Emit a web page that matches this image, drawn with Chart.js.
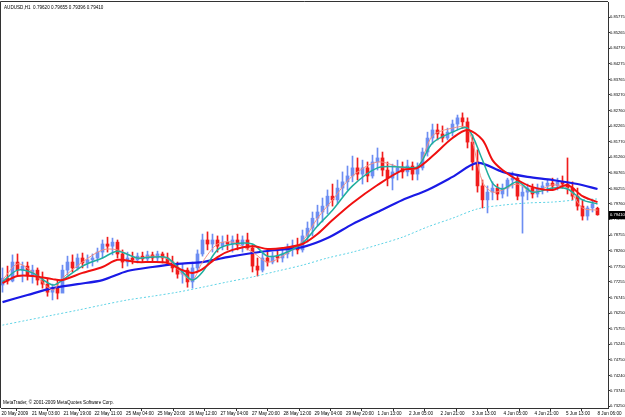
<!DOCTYPE html>
<html>
<head>
<meta charset="utf-8">
<script src="https://cdn.jsdelivr.net/npm/chart.js@4.4.0/dist/chart.umd.min.js"></script>
<style>
  html, body { margin: 0; padding: 0; background: #fff; }
  #wrap { width: 625px; height: 417px; }
</style>
</head>
<body>
<div id="wrap"><canvas id="chart" width="625" height="417"></canvas></div>
<script>
// AUDUSD H1, one candle per bar slot
const symbol = 'AUDUSD,H1';

const opens = [
  0.7715,0.7737,0.7728,0.7789,0.7763,0.7776,0.7747,0.7763,0.7731,0.7718,
  0.7692,0.7705,0.7689,0.7763,0.7789,0.7770,0.7802,0.7786,0.7796,0.7802,
  0.7821,0.7847,0.7840,0.7853,0.7815,0.7789,0.7802,0.7796,0.7808,0.7799,
  0.7812,0.7802,0.7815,0.7802,0.7789,0.7770,0.7750,0.7763,0.7725,0.7770,
  0.7815,0.7860,0.7847,0.7860,0.7840,0.7853,0.7847,0.7860,0.7844,0.7860,
  0.7834,0.7776,0.7763,0.7802,0.7789,0.7808,0.7802,0.7815,0.7828,0.7840,
  0.7828,0.7873,0.7898,0.7930,0.7950,0.7969,0.8001,0.7989,0.8027,0.8047,
  0.8066,0.8092,0.8072,0.8092,0.8066,0.8111,0.8124,0.8085,0.8059,0.8079,
  0.8092,0.8079,0.8098,0.8072,0.8092,0.8143,0.8188,0.8214,0.8201,0.8188,
  0.8207,0.8233,0.8253,0.8240,0.8175,0.8111,0.8034,0.7989,0.8014,0.8027,
  0.8008,0.8027,0.8053,0.8059,0.8001,0.8014,0.8027,0.8008,0.8027,0.8034,
  0.8043,0.8034,0.8047,0.8040,0.8027,0.8001,0.7969,0.7937,0.7963,0.79620
];
const highs = [
  0.7770,0.7776,0.7812,0.7815,0.7789,0.7789,0.7779,0.7770,0.7757,0.7737,
  0.7718,0.7731,0.7779,0.7808,0.7812,0.7815,0.7818,0.7812,0.7815,0.7834,
  0.7860,0.7869,0.7866,0.7860,0.7828,0.7821,0.7821,0.7818,0.7821,0.7824,
  0.7821,0.7824,0.7821,0.7818,0.7808,0.7789,0.7783,0.7770,0.7789,0.7828,
  0.7879,0.7886,0.7879,0.7873,0.7873,0.7876,0.7873,0.7879,0.7873,0.7882,
  0.7844,0.7802,0.7821,0.7828,0.7821,0.7828,0.7834,0.7847,0.7860,0.7866,
  0.7892,0.7918,0.7950,0.7972,0.7995,0.8021,0.8040,0.8053,0.8079,0.8098,
  0.8130,0.8124,0.8117,0.8111,0.8133,0.8156,0.8143,0.8111,0.8104,0.8117,
  0.8111,0.8117,0.8111,0.8108,0.8156,0.8207,0.8233,0.8233,0.8227,0.8220,
  0.8246,0.8262,0.8269,0.8253,0.8198,0.8150,0.8053,0.8034,0.8047,0.8040,
  0.8040,0.8059,0.8079,0.8069,0.8034,0.8040,0.8040,0.8040,0.8047,0.8053,
  0.8059,0.8059,0.8066,0.8124,0.8047,0.8027,0.7989,0.7969,0.7989,0.79655
];
const lows = [
  0.7692,0.7718,0.7725,0.7747,0.7725,0.7731,0.7721,0.7715,0.7705,0.7679,
  0.7667,0.7670,0.7692,0.7747,0.7757,0.7763,0.7770,0.7770,0.7776,0.7789,
  0.7802,0.7821,0.7812,0.7802,0.7770,0.7776,0.7783,0.7786,0.7789,0.7792,
  0.7789,0.7792,0.7786,0.7779,0.7757,0.7737,0.7721,0.7708,0.7705,0.7757,
  0.7808,0.7828,0.7821,0.7821,0.7828,0.7828,0.7821,0.7828,0.7821,0.7828,
  0.7757,0.7744,0.7757,0.7776,0.7783,0.7789,0.7789,0.7802,0.7808,0.7815,
  0.7821,0.7853,0.7873,0.7905,0.7918,0.7944,0.7969,0.7976,0.8001,0.8021,
  0.8047,0.8053,0.8040,0.8047,0.8059,0.8085,0.8066,0.8034,0.8021,0.8053,
  0.8059,0.8066,0.8053,0.8053,0.8085,0.8130,0.8169,0.8182,0.8175,0.8182,
  0.8195,0.8214,0.8220,0.8156,0.8085,0.8014,0.7963,0.7947,0.7989,0.7989,
  0.7995,0.8001,0.8027,0.7989,0.7882,0.7989,0.7995,0.7998,0.8008,0.8014,
  0.8021,0.8021,0.8027,0.8008,0.7989,0.7956,0.7924,0.7924,0.7950,0.79396
];
const closes = [
  0.7737,0.7728,0.7789,0.7763,0.7776,0.7747,0.7763,0.7731,0.7718,0.7692,
  0.7705,0.7689,0.7763,0.7789,0.7770,0.7802,0.7786,0.7796,0.7802,0.7821,
  0.7847,0.7840,0.7853,0.7815,0.7789,0.7802,0.7796,0.7808,0.7799,0.7812,
  0.7802,0.7815,0.7802,0.7789,0.7770,0.7750,0.7763,0.7725,0.7770,0.7815,
  0.7860,0.7847,0.7860,0.7840,0.7853,0.7847,0.7860,0.7844,0.7860,0.7834,
  0.7776,0.7763,0.7802,0.7789,0.7808,0.7802,0.7815,0.7828,0.7840,0.7828,
  0.7873,0.7898,0.7930,0.7950,0.7969,0.8001,0.7989,0.8027,0.8047,0.8066,
  0.8092,0.8072,0.8092,0.8066,0.8111,0.8124,0.8085,0.8059,0.8079,0.8092,
  0.8079,0.8098,0.8072,0.8092,0.8143,0.8188,0.8214,0.8201,0.8188,0.8207,
  0.8233,0.8253,0.8240,0.8175,0.8111,0.8034,0.7989,0.8014,0.8027,0.8008,
  0.8027,0.8053,0.8059,0.8001,0.8014,0.8027,0.8008,0.8027,0.8034,0.8043,
  0.8034,0.8047,0.8040,0.8027,0.8001,0.7969,0.7937,0.7963,0.7976,0.79410
];

// moving averages, sampled at these bar slots
const fastBars = [0,3,6,10,12,16,20,23,27,30,33,36,38,40,43,46,50,53,56,60,63,66,70,75,80,83,86,90,93,96,98,100,103,106,110,113,116,119];
const maRed = [0.7721,0.7744,0.7744,0.7734,0.7731,0.7754,0.7773,0.7796,0.7789,0.7789,0.7786,0.7763,0.7754,0.7766,0.7805,0.7828,0.7840,0.7831,0.7834,0.7847,0.7879,0.7924,0.7979,0.8037,0.8085,0.8092,0.8130,0.8188,0.8214,0.8182,0.8117,0.8085,0.8053,0.8030,0.8021,0.8037,0.8001,0.7982];
const maTeal = [0.7725,0.7763,0.7754,0.7715,0.7731,0.7776,0.7802,0.7824,0.7802,0.7805,0.7802,0.7757,0.7731,0.7757,0.7828,0.7847,0.7847,0.7808,0.7815,0.7850,0.7905,0.7956,0.8034,0.8092,0.8095,0.8095,0.8172,0.8207,0.8220,0.8117,0.8043,0.8024,0.8047,0.8014,0.8027,0.8024,0.7989,0.7976];
const maSalmon = [0.7731,0.7783,0.7757,0.7699,0.7737,0.7789,0.7828,0.7828,0.7802,0.7808,0.7799,0.7750,0.7731,0.7789,0.7847,0.7853,0.7821,0.7789,0.7808,0.7856,0.7930,0.7989,0.8066,0.8111,0.8092,0.8092,0.8195,0.8220,0.8220,0.8047,0.8014,0.8021,0.8040,0.8014,0.8037,0.8027,0.7963,0.7956];

const slowBars = [0,5,10,15,20,25,30,35,40,45,50,55,60,65,70,75,80,85,90,95,100,105,110,115,119];
const maBlue = [0.7660,0.7683,0.7705,0.7718,0.7731,0.7760,0.7773,0.7783,0.7789,0.7805,0.7818,0.7828,0.7837,0.7866,0.7911,0.7950,0.7989,0.8021,0.8063,0.8108,0.8079,0.8063,0.8053,0.8040,0.8024];
const maCyan = [0.7586,0.7602,0.7618,0.7634,0.7651,0.7667,0.7679,0.7692,0.7708,0.7725,0.7741,0.7760,0.7779,0.7802,0.7821,0.7844,0.7869,0.7902,0.7930,0.7960,0.7972,0.7979,0.7982,0.7989,0.7992];

// axis labels
const yTicks = [0.85775,0.85265,0.84770,0.84275,0.83765,0.83270,0.82760,0.82265,0.81770,0.81260,0.80765,0.80255,0.79760,0.79265,0.78755,0.78260,0.77750,0.77255,0.76745,0.76250,0.75755,0.75245,0.74750,0.74240,0.73745,0.73250];
const xLabels = ['20 May 2009','21 May 03:00','21 May 19:00','22 May 11:00','25 May 04:00','25 May 20:00','26 May 12:00','27 May 04:00','27 May 20:00','28 May 12:00','29 May 04:00','29 May 20:00','1 Jun 13:00','2 Jun 05:00','2 Jun 21:00','3 Jun 13:00','4 Jun 05:00','4 Jun 21:00','5 Jun 13:00','8 Jun 06:00'];
const xTickBars = [-0.2,5.9,12.2,18.4,24.7,31,37.3,43.6,49.9,56.2,62.4,68.7,75,81.3,87.6,93.9,100.2,106.4,112.7,119];

const FONT = 'Liberation Sans, Arial, sans-serif';
const upColor = '#6d8ef2';
const downColor = '#f01c1c';

const candleColors = closes.map((c, i) => c >= opens[i] ? upColor : downColor);
const wickData = highs.map((h, i) => ({ x: i, y: [lows[i], h] }));
const bodyData = opens.map((o, i) => ({ x: i, y: [o, closes[i]] }));
const pts = (bars, vals) => bars.map((b, i) => ({ x: b, y: vals[i] }));

// frame, header text, copyright and last price box
const mtDecor = {
  id: 'mtDecor',
  afterDraw(chart) {
    const { ctx, chartArea: a, scales } = chart;
    ctx.save();
    ctx.strokeStyle = '#333';
    ctx.lineWidth = 1;
    ctx.beginPath();
    ctx.moveTo(a.left - 0.5, a.bottom);
    ctx.lineTo(a.left - 0.5, a.top - 0.5);
    ctx.lineTo(a.right, a.top - 0.5);
    ctx.stroke();

    const last = closes.length - 1;
    ctx.fillStyle = '#000';
    ctx.font = '4.6px ' + FONT;
    ctx.textBaseline = 'middle';
    ctx.textAlign = 'left';
    ctx.fillText(symbol + '  ' + [opens[last], highs[last], lows[last], closes[last]].map(v => v.toFixed(5)).join(' '), 4, 8);
    ctx.fillText('MetaTrader, \u00a9 2001-2009 MetaQuotes Software Corp.', 3, 403);

    const py = Math.round(scales.y.getPixelForValue(closes[last]));
    ctx.fillRect(a.right + 1, py - 4, 625 - a.right, 8);
    ctx.fillStyle = '#fff';
    ctx.font = '4.1px ' + FONT;
    ctx.fillText(closes[last].toFixed(5), a.right + 2, py);
    ctx.restore();
  }
};

new Chart(document.getElementById('chart'), {
  type: 'bar',
  data: {
    datasets: [
      { type: 'line', data: pts(slowBars, maCyan), borderColor: '#5fd3e6', borderWidth: 1, borderDash: [2, 2], pointRadius: 0, tension: 0.3, order: 4 },
      { type: 'line', data: pts(slowBars, maBlue), borderColor: '#1a1ae6', borderWidth: 2.2, pointRadius: 0, tension: 0.3, order: 3 },
      { type: 'line', data: pts(fastBars, maSalmon), borderColor: '#f29084', borderWidth: 1, pointRadius: 0, tension: 0.3, order: 2 },
      { type: 'line', data: pts(fastBars, maTeal), borderColor: '#1fae9f', borderWidth: 1.5, pointRadius: 0, tension: 0.3, order: 1 },
      { type: 'line', data: pts(fastBars, maRed), borderColor: '#f01010', borderWidth: 2, pointRadius: 0, tension: 0.3, order: 0 },
      { data: bodyData, backgroundColor: candleColors, barThickness: 3, minBarLength: 1, grouped: false, order: 10 },
      { data: wickData, backgroundColor: candleColors, barThickness: 1, grouped: false, order: 11 }
    ]
  },
  options: {
    responsive: false,
    animation: false,
    events: [],
    layout: { padding: { left: 1, top: 2, right: 0, bottom: 0 } },
    plugins: { legend: { display: false }, tooltip: { enabled: false } },
    scales: {
      x: {
        type: 'linear', min: -0.3, max: 121.1, offset: false,
        grid: { display: true, drawOnChartArea: false, tickLength: 3, color: '#333' },
        border: { display: true, color: '#333' },
        ticks: {
          autoSkip: false, maxRotation: 0, minRotation: 0, align: 'start', padding: 0,
          color: '#000', font: { family: FONT, size: 4.6 },
          callback: (v, i) => xLabels[i]
        },
        afterBuildTicks: s => { s.ticks = xTickBars.map(v => ({ value: v })); },
        afterFit: s => { s.height = 9; s.paddingLeft = 0; s.paddingRight = 0; }
      },
      y: {
        type: 'linear', position: 'right', min: 0.73193, max: 0.86258,
        grid: { display: true, drawOnChartArea: false, tickLength: 2, color: '#333' },
        border: { display: true, color: '#333' },
        ticks: {
          autoSkip: false, padding: 0, color: '#000', font: { family: FONT, size: 4.1 },
          callback: v => v.toFixed(5)
        },
        afterBuildTicks: s => { s.ticks = yTicks.map(v => ({ value: v })); },
        afterFit: s => { s.width = 17; s.paddingTop = 0; s.paddingBottom = 0; }
      }
    }
  },
  plugins: [mtDecor]
});
</script>
</body>
</html>
